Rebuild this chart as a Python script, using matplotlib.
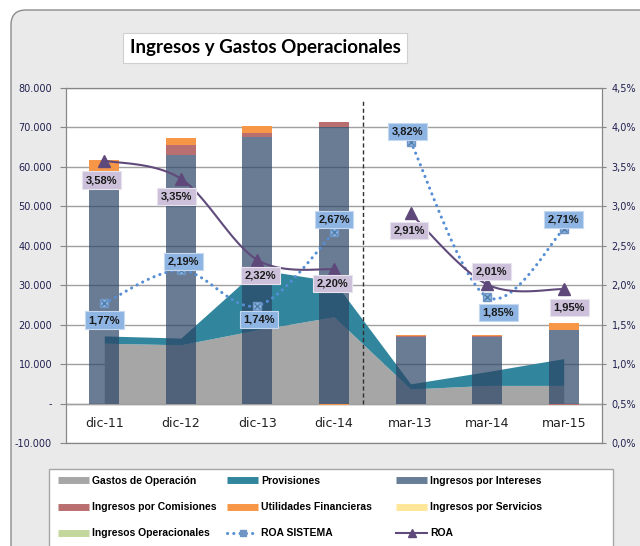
import numpy as np
import matplotlib
matplotlib.use('Agg')
import matplotlib.pyplot as plt
from matplotlib.lines import Line2D
from matplotlib.patches import FancyBboxPatch, Rectangle
from matplotlib.ticker import FuncFormatter

# data
categories = ['dic-11', 'dic-12', 'dic-13', 'dic-14', 'mar-13', 'mar-14', 'mar-15']
gastos_operacion = [15300, 14900, 18700, 22000, 3700, 4600, 4600]
provisiones = [1850, 1700, 15300, 9000, 1300, 3500, 6800]
ingresos_intereses = [58800, 63100, 67600, 70000, 17000, 17000, 18700]
ingresos_comisiones = [0, 2400, 1100, 1500, 150, 250, -300]
utilidades_financieras = [2900, 1900, 1750, -400, 300, 250, 1700]
ingresos_servicios = [0, 0, 0, 0, 0, 0, 0]
ingresos_operacionales = [0, 0, 0, 0, 0, 0, 0]
roa_sistema = [1.77, 2.19, 1.74, 2.67, 3.82, 1.85, 2.71]
roa = [3.58, 3.35, 2.32, 2.20, 2.91, 2.01, 1.95]
# the two line series are broken between dic-14 and mar-13
line_groups = [slice(0, 4), slice(4, 7)]

# label offsets (points) for the data labels
off_roa = [(-2, -14), (-3, -13), (2, -11), (-1, -10), (-1, -12), (3, 9), (4, -13)]
off_sis = [(0, -12), (2, 6), (1, -10), (0, 9), (-2, 7), (8, -11), (0, 7)]

C_GASTOS = '#a6a6a6'
C_PROV = '#31859c'
C_INT = '#2b4566'
C_COM = '#b96f6f'
C_UTIL = '#f79646'
C_SERV = '#ffe699'
C_OPER = '#c3d69b'
C_ROA = '#604a7b'
C_SIS = '#558ed5'
TXT = '#202050'
DOTS = (0, (0.05, 2.0))


def smooth(xs, ys, n=30):
    # excel style smoothed line (bezier through the points)
    p = np.column_stack([xs, ys]).astype(float)
    p = np.vstack([p[0], p, p[-1]])
    t = np.linspace(0, 1, n)[:, None]
    out = []
    for i in range(1, len(p) - 2):
        p0, p1, p2, p3 = p[i - 1], p[i], p[i + 1], p[i + 2]
        c1 = p1 + (p2 - p0) / 6
        c2 = p2 - (p3 - p1) / 6
        out.append((1 - t) ** 3 * p1 + 3 * (1 - t) ** 2 * t * c1 + 3 * (1 - t) * t ** 2 * c2 + t ** 3 * p2)
    out = np.vstack(out)
    return out[:, 0], out[:, 1]


fig = plt.figure(figsize=(6.4, 5.46), dpi=100)
fig.patch.set_facecolor('white')

# chart area background
bg = FancyBboxPatch((0.11, -1.0), 7.0, 6.36, boxstyle='round,pad=0,rounding_size=0.15',
                    transform=fig.dpi_scale_trans, fc='#eaeaea', ec='#8c8c8c', lw=1.0, zorder=-10)
fig.patches.append(bg)
# legend box
fig.patches.append(Rectangle((0.49, -0.5), 5.64, 1.27, transform=fig.dpi_scale_trans,
                             fc='white', ec='#a6a6a6', lw=1, zorder=-9))

ax = fig.add_axes([66 / 640, 1 - 443 / 546, 536 / 640, (443 - 88) / 546])
ax.set_facecolor('white')
x = np.arange(len(categories))
ax.set_xlim(-0.5, len(categories) - 0.5)
ax.set_ylim(-10000, 80000)

g = np.array(gastos_operacion, float)
pv = np.array(provisiones, float)
ax.fill_between(x, 0, g, color=C_GASTOS, lw=0, zorder=1)
ax.fill_between(x, g, g + pv, color=C_PROV, lw=0, zorder=1)
ax.axhline(0, color='#a0a0a0', lw=1, zorder=1.5)

pos_base = np.zeros(len(x))
neg_base = np.zeros(len(x))
for vals, col, al in [(ingresos_intereses, C_INT, 0.7),
                      (ingresos_comisiones, C_COM, 1.0),
                      (utilidades_financieras, C_UTIL, 1.0),
                      (ingresos_servicios, C_SERV, 1.0),
                      (ingresos_operacionales, C_OPER, 1.0)]:
    v = np.array(vals, float)
    bottom = np.where(v >= 0, pos_base, neg_base)
    ax.bar(x, v, 0.39, bottom=bottom, color=col, alpha=al, lw=0, zorder=2)
    pos_base += np.clip(v, 0, None)
    neg_base += np.clip(v, None, 0)

ax.vlines(3.38, 0, 77000, colors='#303030', linestyles=(0, (3, 2)), lw=1, zorder=3)

ax.set_yticks(np.arange(-10000, 80001, 10000))
ax.yaxis.set_major_formatter(FuncFormatter(lambda v, p: '-' if v == 0 else f'{v:,.0f}'.replace(',', '.')))
ax.yaxis.grid(True, color='#a0a0a0', lw=1)
ax.set_axisbelow(True)
ax.tick_params(axis='y', direction='out', length=4, color='#868686', labelsize=7, labelcolor=TXT, pad=6)
ax.set_xticks(x, categories)
ax.tick_params(axis='x', length=0, pad=-19, labelsize=9, labelcolor='#202020')
for s in ax.spines.values():
    s.set_color('#868686')

ax2 = ax.twinx()
ax2.set_ylim(0, 4.5)
ax2.set_yticks(np.arange(0, 4.51, 0.5))
ax2.yaxis.set_major_formatter(FuncFormatter(lambda v, p: f'{v:.1f}%'.replace('.', ',')))
ax2.tick_params(axis='y', direction='out', length=3, color='#868686', labelsize=7, labelcolor=TXT, pad=4)
for s in ax2.spines.values():
    s.set_color('#868686')

for sl in line_groups:
    xs = x[sl]
    sx, sy = smooth(xs, np.array(roa_sistema)[sl])
    ax2.plot(sx, sy, color=C_SIS, lw=2.2, ls=DOTS, dash_capstyle='round', zorder=3)
    rx, ry = smooth(xs, np.array(roa)[sl])
    ax2.plot(rx, ry, color=C_ROA, lw=1.5, zorder=4)

ax2.plot(x, roa_sistema, ls='none', marker='s', ms=5.5, mfc='#8db4e2', mec='#6f95c4', zorder=5)
ax2.plot(x, roa_sistema, ls='none', marker='x', ms=4, mew=1, color='#4f7fa8', zorder=6)
ax2.plot(x, roa, ls='none', marker='^', ms=8, color='#5f497a', zorder=6)

lab_kw = dict(textcoords='offset points', ha='center', va='center', fontsize=8,
              fontweight='bold', family='Liberation Sans', color='#1a1a1a', zorder=7)
for i, v in enumerate(roa):
    ax2.annotate(f'{v:.2f}%'.replace('.', ','), (x[i], v), xytext=off_roa[i],
                 bbox=dict(boxstyle='square,pad=0.32', fc='#ccc0da', ec='#e8e4ee', lw=0.8), **lab_kw)
for i, v in enumerate(roa_sistema):
    ax2.annotate(f'{v:.2f}%'.replace('.', ','), (x[i], v), xytext=off_sis[i],
                 bbox=dict(boxstyle='square,pad=0.32', fc='#8db4e2', ec='#c6d9f0', lw=0.8), **lab_kw)

# title
fig.text(265 / 640, 1 - 48 / 546, 'Ingresos y Gastos Operacionales', fontsize=13.5,
         fontweight='bold', family='Lato', ha='center', va='center', color='black',
         bbox=dict(boxstyle='square,pad=0.35', fc='white', ec='#d0d0d0', lw=0.8))


def bar_handle(c):
    return Line2D([], [], color=c, lw=5, solid_capstyle='butt')


h_sis = Line2D([], [], color=C_SIS, lw=2.2, ls=DOTS, dash_capstyle='round', marker='s', ms=5,
               mfc='#6f95c4', mec='#6f95c4')
h_roa = Line2D([], [], color=C_ROA, lw=1.5, marker='^', ms=6, mfc='#5f497a', mec='#5f497a')
columns = [
    ([bar_handle(C_GASTOS), bar_handle(C_COM), bar_handle(C_OPER)],
     ['Gastos de Operación', 'Ingresos por Comisiones', 'Ingresos Operacionales'], 58),
    ([bar_handle(C_PROV), bar_handle(C_UTIL), h_sis],
     ['Provisiones', 'Utilidades Financieras', 'ROA SISTEMA'], 227),
    ([bar_handle('#687e96'), bar_handle(C_SERV), h_roa],
     ['Ingresos por Intereses', 'Ingresos por Servicios', 'ROA'], 396),
]
for hs, ls, xp in columns:
    fig.legend(hs, ls, loc='upper left', bbox_to_anchor=(xp / 640, 1 - 476 / 546),
               frameon=False, borderpad=0, borderaxespad=0, handlelength=3.0,
               handletextpad=0.3, labelspacing=1.55,
               prop=dict(family='Liberation Sans', weight='bold', size=7.5))

fig.savefig('out.png', dpi=100)
